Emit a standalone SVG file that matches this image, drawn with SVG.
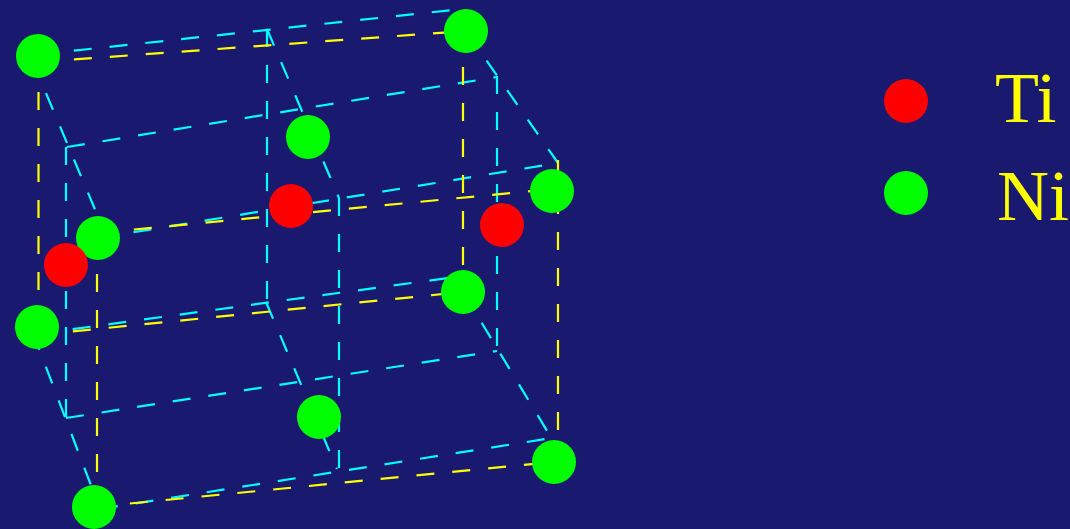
<svg xmlns="http://www.w3.org/2000/svg" width="1070" height="529" viewBox="0 0 1070 529">
  <style>
    .cy { stroke: #00FFFF; stroke-width: 2.2; stroke-dasharray: 18 18; fill: none; }
    .ye { stroke: #FFFF00; stroke-width: 2.2; stroke-dasharray: 18 18; fill: none; }
    .ni { fill: #00FF00; }
    .ti { fill: #FF0000; }
    .lbl { font-family: "Liberation Serif", "Times New Roman", serif; font-size: 72px; fill: #FFFF00; }
  </style>
  <rect width="1070" height="529" fill="#191970"/>

  <g id="connectors">
    <!-- cyan lattice: back face -->
    <line class="cy" x1="38" y1="54.5" x2="462" y2="9"/>
    <line class="cy" x1="37" y1="334" x2="463" y2="276"/>
    <line class="cy" x1="267" y1="29" x2="267" y2="302"/>
    <!-- cyan lattice: middle face -->
    <line class="cy" x1="67" y1="147" x2="497" y2="77"/>
    <line class="cy" x1="66" y1="418" x2="497" y2="351"/>
    <line class="cy" x1="66" y1="147" x2="66" y2="418"/>
    <line class="cy" x1="497" y1="76" x2="497" y2="351"/>
    <!-- cyan lattice: front face -->
    <line class="cy" x1="98" y1="238" x2="558" y2="163"/>
    <line class="cy" x1="100" y1="509" x2="552" y2="438"/>
    <line class="cy" x1="339" y1="198" x2="339" y2="469"/>
    <!-- cyan lattice: depth edges -->
    <line class="cy" x1="32" y1="60" x2="102" y2="226"/>
    <line class="cy" x1="267" y1="29" x2="339" y2="198"/>
    <line class="cy" x1="466" y1="31" x2="558" y2="163"/>
    <line class="cy" x1="33" y1="333" x2="100" y2="509"/>
    <line class="cy" x1="266" y1="302" x2="337" y2="469"/>
    <line class="cy" x1="463" y1="292" x2="552" y2="439"/>

    <!-- yellow cell: back face -->
    <line class="ye" x1="38" y1="62" x2="466" y2="31"/>
    <line class="ye" x1="38.5" y1="56" x2="38.5" y2="327"/>
    <line class="ye" x1="37" y1="335" x2="463" y2="292"/>
    <line class="ye" x1="463" y1="31" x2="463" y2="292"/>
    <!-- yellow cell: front face -->
    <line class="ye" x1="98" y1="233" x2="552" y2="189"/>
    <line class="ye" x1="97" y1="238" x2="97" y2="507"/>
    <line class="ye" x1="558" y1="160" x2="558" y2="440"/>
    <line class="ye" x1="94" y1="507" x2="554" y2="462"/>
  </g>

  <!-- Ni atoms -->
  <circle id="ni-1" class="ni" cx="38" cy="56" r="22"/>
  <circle id="ni-2" class="ni" cx="466" cy="31" r="22"/>
  <circle id="ni-3" class="ni" cx="308" cy="137" r="22"/>
  <circle id="ni-4" class="ni" cx="98" cy="238" r="22"/>
  <circle id="ni-5" class="ni" cx="552" cy="191" r="22"/>
  <circle id="ni-6" class="ni" cx="37" cy="327" r="22"/>
  <circle id="ni-7" class="ni" cx="463" cy="292" r="22"/>
  <circle id="ni-8" class="ni" cx="319" cy="417" r="22"/>
  <circle id="ni-9" class="ni" cx="94" cy="507" r="22"/>
  <circle id="ni-10" class="ni" cx="554" cy="462" r="22"/>

  <!-- Ti atoms -->
  <circle id="ti-1" class="ti" cx="66" cy="265" r="22"/>
  <circle id="ti-2" class="ti" cx="291" cy="206" r="22"/>
  <circle id="ti-3" class="ti" cx="502" cy="225" r="22"/>

  <!-- legend -->
  <g id="legend-ti">
    <circle class="ti" cx="906" cy="101" r="22"/>
    <text class="lbl" x="995" y="122">Ti</text>
  </g>
  <g id="legend-ni">
    <circle class="ni" cx="906" cy="193" r="22"/>
    <text class="lbl" x="997" y="220">Ni</text>
  </g>
</svg>
